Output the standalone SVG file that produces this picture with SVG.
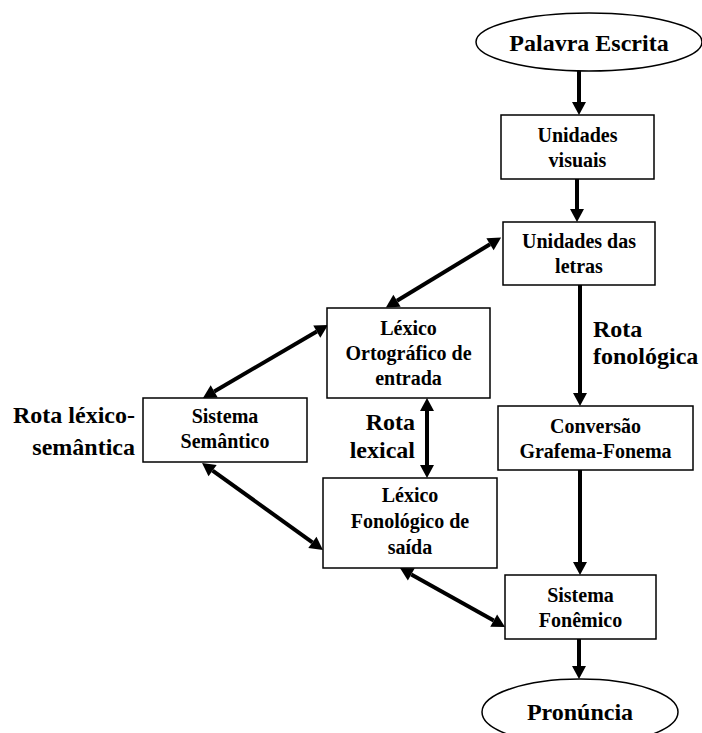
<svg xmlns="http://www.w3.org/2000/svg" width="702" height="733" viewBox="0 0 702 733">
<style>
.box{fill:#fff;stroke:#000;stroke-width:1.5}
text{font-family:'Liberation Serif','Times New Roman','DejaVu Serif',serif;font-weight:bold;fill:#000}
.t{font-size:20px;text-anchor:middle}
.lbl{font-size:24px}
.c{stroke:#000;stroke-width:4;fill:none}
.one{marker-end:url(#ah)}
.two{marker-start:url(#ah);marker-end:url(#ah)}
</style>
<defs>
<marker id="ah" markerUnits="userSpaceOnUse" markerWidth="14" markerHeight="16" refX="0" refY="7" orient="auto-start-reverse" overflow="visible">
<path d="M0,0 L13,7 L0,14 z" fill="#000"/>
</marker>
</defs>
<rect width="702" height="733" fill="#fff"/>
<g id="connectors">
<line class="c one" x1="579" y1="71" x2="579" y2="102"/>
<line class="c one" x1="577" y1="179" x2="577" y2="209"/>
<line class="c one" x1="580" y1="285" x2="580" y2="393"/>
<line class="c one" x1="580" y1="470" x2="580" y2="562"/>
<line class="c one" x1="579" y1="639" x2="579" y2="666"/>
<line class="c two" x1="397" y1="300.7" x2="490" y2="244.3"/>
<line class="c two" x1="214.2" y1="391.4" x2="316.8" y2="331.6"/>
<line class="c two" x1="212.6" y1="470.6" x2="312.4" y2="542.4"/>
<line class="c two" x1="411.3" y1="574.4" x2="493.7" y2="620.6"/>
<line class="c two" x1="427" y1="411" x2="427" y2="465"/>
</g>
<g id="palavra">
<ellipse class="box" cx="589" cy="42" rx="113" ry="29"/>
<text class="lbl" x="589" y="51" text-anchor="middle">Palavra Escrita</text>
</g>
<g id="visuais">
<rect class="box" x="501" y="115" width="153" height="64"/>
<text class="t" x="577.5" y="142">Unidades</text>
<text class="t" x="577.5" y="167">visuais</text>
</g>
<g id="letras">
<rect class="box" x="503" y="222" width="152" height="63"/>
<text class="t" x="579" y="248">Unidades das</text>
<text class="t" x="579" y="273">letras</text>
</g>
<g id="ortografico">
<rect class="box" x="327" y="308" width="163" height="90"/>
<text class="t" x="408.5" y="335">Léxico</text>
<text class="t" x="408.5" y="360">Ortográfico de</text>
<text class="t" x="408.5" y="385">entrada</text>
</g>
<g id="fonologico">
<rect class="box" x="323" y="478" width="174" height="90"/>
<text class="t" x="410" y="502">Léxico</text>
<text class="t" x="410" y="528">Fonológico de</text>
<text class="t" x="410" y="554">saída</text>
</g>
<g id="semantico">
<rect class="box" x="143" y="398" width="164" height="64"/>
<text class="t" x="225" y="423">Sistema</text>
<text class="t" x="225" y="448">Semântico</text>
</g>
<g id="conversao">
<rect class="box" x="498" y="406" width="195" height="64"/>
<text class="t" x="595.5" y="433">Conversão</text>
<text class="t" x="595.5" y="458">Grafema-Fonema</text>
</g>
<g id="fonemico">
<rect class="box" x="505" y="575" width="151" height="64"/>
<text class="t" x="580.5" y="602">Sistema</text>
<text class="t" x="580.5" y="627">Fonêmico</text>
</g>
<g id="pronuncia">
<ellipse class="box" cx="580" cy="712" rx="98" ry="33"/>
<text class="lbl" x="580" y="720" text-anchor="middle">Pronúncia</text>
</g>
<g id="labels">
<text class="lbl" x="593" y="337">Rota</text>
<text class="lbl" x="593" y="364">fonológica</text>
<text class="lbl" x="415" y="430" text-anchor="end">Rota</text>
<text class="lbl" x="415" y="458" text-anchor="end">lexical</text>
<text class="lbl" x="135" y="423" text-anchor="end">Rota léxico-</text>
<text class="lbl" x="135" y="455" text-anchor="end">semântica</text>
</g>
</svg>
